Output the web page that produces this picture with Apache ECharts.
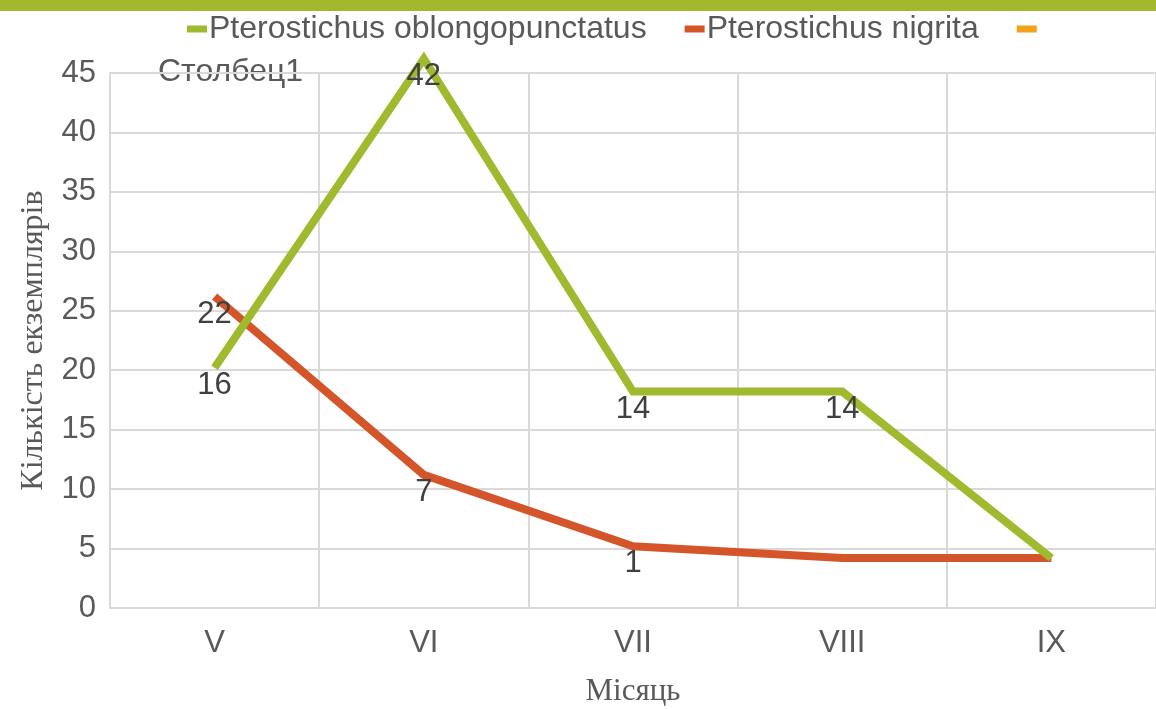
<!DOCTYPE html>
<html>
<head>
<meta charset="utf-8">
<script src="https://cdn.jsdelivr.net/npm/echarts@6/dist/echarts.min.js"></script>
<style>
  html, body { margin: 0; padding: 0; background: #fff; }
  #chart { width: 1156px; height: 709px; }
</style>
</head>
<body>
<div id="chart"></div>
<script>
  // Months on the x axis
  var months = ['V', 'VI', 'VII', 'VIII', 'IX'];
  // Counts shown as data labels
  var oblongopunctatus = [16, 42, 14, 14, 0];
  var nigrita = [22, 7, 1, 0, 0];
  // Offset the lines sit on in the picture (the "Столбец1" series)
  var stolbets = [4.2, 4.2, 4.2, 4.2, 4.2];
  var yTicks = { min: 0, max: 45, interval: 5 };

  var names = ['Pterostichus oblongopunctatus', 'Pterostichus nigrita', 'Столбец1'];
  var colors = ['#9fba2e', '#d4552a', '#f2a31b'];
  var font = '"Liberation Sans", Arial, sans-serif';
  var serif = '"Liberation Serif", "DejaVu Serif", serif';

  var dom = document.getElementById('chart');
  var chart = echarts.init(dom, null, {renderer: 'canvas'});

  function countLabel(p) {
    return p.value === 0 ? '' : String(p.value);
  }

  function lineSeries(name, data, color, stack) {
    return {
      name: name,
      type: 'line',
      stack: stack,
      data: data,
      clip: false,
      symbol: 'circle',
      symbolSize: 0,
      showSymbol: true,
      lineStyle: { color: color, width: 8, join: 'miter', cap: 'butt' },
      itemStyle: { color: color },
      label: {
        show: true,
        position: 'bottom',
        distance: 2,
        formatter: countLabel,
        fontFamily: font,
        fontSize: 31,
        color: '#404040'
      },
      z: 3
    };
  }

  function baseSeries(name, stack) {
    return {
      name: name,
      type: 'line',
      stack: stack,
      data: stolbets,
      symbol: 'none',
      lineStyle: { opacity: 0 },
      itemStyle: { color: colors[2] },
      silent: true,
      z: 1
    };
  }

  var option = {
    animation: false,
    color: colors,
    graphic: [
      { type: 'rect', left: 0, top: 0, shape: { width: 1156, height: 11 }, style: { fill: '#a3b82c' } },
      { type: 'text', left: 158, top: 56, style: { text: 'Столбец1', fontFamily: font, fontSize: 32, fill: '#595959' } }
    ],
    legend: {
      top: 8,
      left: 182,
      itemWidth: 20,
      itemHeight: 7,
      itemGap: 38,
      icon: 'rect',
      data: [
        { name: names[0], itemStyle: { color: colors[0] } },
        { name: names[1], itemStyle: { color: colors[1] } },
        { name: names[2], itemStyle: { color: colors[2] } }
      ],
      formatter: function (n) { return n === names[2] ? '' : n; },
      textStyle: { fontFamily: font, fontSize: 32, color: '#595959', padding: [0, 0, 0, -3] }
    },
    grid: { left: 110, right: 0, top: 73, bottom: 101, containLabel: false, outerBoundsMode: 'none' },
    xAxis: {
      type: 'category',
      data: months,
      boundaryGap: true,
      name: 'Місяць',
      nameLocation: 'middle',
      nameGap: 68,
      nameTextStyle: { fontFamily: serif, fontSize: 31, color: '#595959' },
      axisLine: { lineStyle: { color: '#d9d9d9', width: 2 } },
      axisTick: { show: false },
      axisLabel: { fontFamily: font, fontSize: 31, color: '#595959', margin: 20 },
      splitLine: { show: true, lineStyle: { color: '#d9d9d9', width: 2 } }
    },
    yAxis: {
      type: 'value',
      min: yTicks.min,
      max: yTicks.max,
      interval: yTicks.interval,
      name: 'Кількість екземплярів',
      nameLocation: 'middle',
      nameGap: 60,
      nameTextStyle: { fontFamily: serif, fontSize: 32, color: '#595959' },
      axisLine: { show: true, lineStyle: { color: '#d9d9d9', width: 2 } },
      axisTick: { show: false },
      axisLabel: { fontFamily: font, fontSize: 31, color: '#595959', margin: 14 },
      splitLine: { show: true, lineStyle: { color: '#d9d9d9', width: 2 } }
    },
    series: [
      baseSeries('base-g', 'g'),
      baseSeries(names[2], 'r'),
      lineSeries(names[1], nigrita, colors[1], 'r'),
      lineSeries(names[0], oblongopunctatus, colors[0], 'g')
    ]
  };

  chart.setOption(option);
</script>
</body>
</html>
